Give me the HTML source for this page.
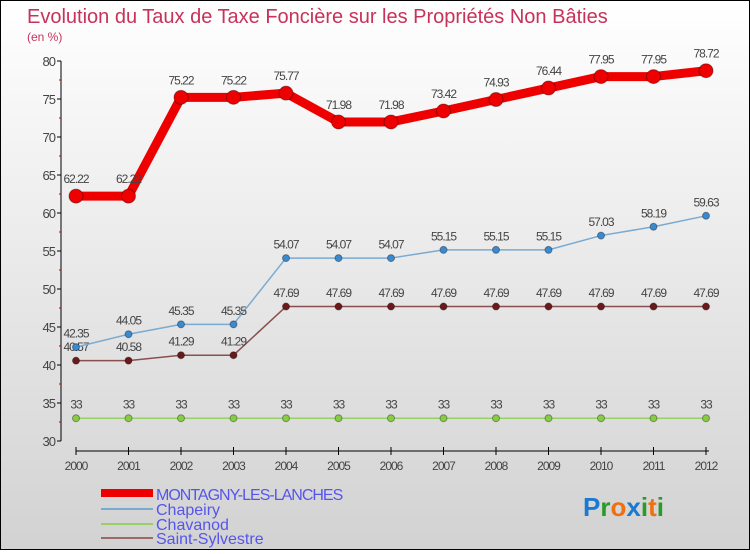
<!DOCTYPE html>
<html><head><meta charset="utf-8"><style>
body{margin:0;width:750px;height:550px;overflow:hidden;font-family:"Liberation Sans",sans-serif}
#c{position:absolute;left:0;top:0;width:748px;height:548px;border:1px solid #000;background:linear-gradient(#fff,#d2d2d2)}
</style></head><body>
<div id="c">
<svg id="s" width="748" height="548" xmlns="http://www.w3.org/2000/svg">
<text x="26" y="22" font-size="20" fill="#c8325a">Evolution du Taux de Taxe Foncière sur les Propriétés Non Bâties</text>
<text x="26" y="40" font-size="12" fill="#c8325a">(en %)</text>
<g id="ax"></g><g id="ser"></g>
<g font-size="16" fill="#5555ee">
<rect x="100" y="488" width="52" height="8" fill="#e00"/>
<text x="155" y="499" letter-spacing="-1">MONTAGNY-LES-LANCHES</text>
<rect x="100" y="507" width="52" height="2" fill="#7aaad0"/>
<text x="155" y="514">Chapeiry</text>
<rect x="100" y="522" width="52" height="2" fill="#99d066"/>
<text x="155" y="529">Chavanod</text>
<rect x="100" y="536" width="52" height="2" fill="#9a6a6a"/>
<text x="155" y="543">Saint-Sylvestre</text>
</g>
<text x="582" y="515" font-size="26" font-weight="bold"><tspan fill="#1a7ad0">P</tspan><tspan fill="#2a9a2a">r</tspan><tspan fill="#f07010">o</tspan><tspan fill="#1a7ad0">x</tspan><tspan fill="#2a9a2a">i</tspan><tspan fill="#f07010">t</tspan><tspan fill="#2a9a2a">i</tspan></text>
</svg></div>
<script>
const years=["2000","2001","2002","2003","2004","2005","2006","2007","2008","2009","2010","2011","2012"];
const yTicks=[30,35,40,45,50,55,60,65,70,75,80];
const montagny=[62.22,62.22,75.22,75.22,75.77,71.98,71.98,73.42,74.93,76.44,77.95,77.95,78.72];
const chapeiry=[42.35,44.05,45.35,45.35,54.07,54.07,54.07,55.15,55.15,55.15,57.03,58.19,59.63];
const chavanod=[33,33,33,33,33,33,33,33,33,33,33,33,33];
const saintSylvestre=[40.57,40.58,41.29,41.29,47.69,47.69,47.69,47.69,47.69,47.69,47.69,47.69,47.69];
const NS="http://www.w3.org/2000/svg";
const X=i=>75+i*52.5, Y=v=>440-(v-30)*7.6;
function mk(t,a,p){const e=document.createElementNS(NS,t);for(const k in a)e.setAttribute(k,a[k]);p.appendChild(e);return e;}
const ax=document.getElementById('ax'),ser=document.getElementById('ser');
mk('line',{x1:60,y1:60,x2:60,y2:440,stroke:'#000'},ax);
yTicks.forEach(v=>{
 mk('line',{x1:56,y1:Y(v),x2:60,y2:Y(v),stroke:'#000'},ax);
 const t=mk('text',{x:54,y:Y(v)+5,'font-size':13,fill:'#444','text-anchor':'end','letter-spacing':'-1'},ax);
 
 
 t.textContent=v;
 if(v<80)mk('line',{x1:58,y1:Y(v+2.5),x2:60,y2:Y(v+2.5),stroke:'#c00'},ax);
});
mk('line',{x1:75,y1:450,x2:708,y2:450,stroke:'#000'},ax);
years.forEach((y,i)=>{
 mk('line',{x1:X(i),y1:446,x2:X(i),y2:454,stroke:'#000'},ax);
 const t=mk('text',{x:X(i),y:469,'font-size':12,fill:'#444','text-anchor':'middle','letter-spacing':'-1'},ax);
 
 
 t.textContent=y;
});
function draw(arr,name,col,w,r,dot,lblCol){
 const g=mk('g',{},ser);
 
 
 mk('polyline',{points:arr.map((v,i)=>X(i)+','+Y(v)).join(' '),fill:'none',stroke:col,'stroke-width':w,'stroke-linejoin':'round'},g);
 arr.forEach((v,i)=>{
  const c=mk('circle',{cx:X(i),cy:Y(v),r:r,fill:dot,stroke:'rgba(0,0,0,0.35)'},g);
  
  
  const t=mk('text',{x:X(i),y:Y(v)-(r+6),'font-size':12,fill:'#444','text-anchor':'middle','letter-spacing':'-1'},g);
  
  
  t.textContent=v;
 });
}
draw(chavanod,'chavanod','#99d066',1.5,3.5,'#88cc44');
draw(saintSylvestre,'saint-sylvestre','#8a5050',1.5,3.5,'#6a1a1a');
draw(chapeiry,'chapeiry','#7aaad0',1.5,3.5,'#3a8ad0');
draw(montagny,'montagny','#e00',9,7,'#e00');
</script>
</body></html>
